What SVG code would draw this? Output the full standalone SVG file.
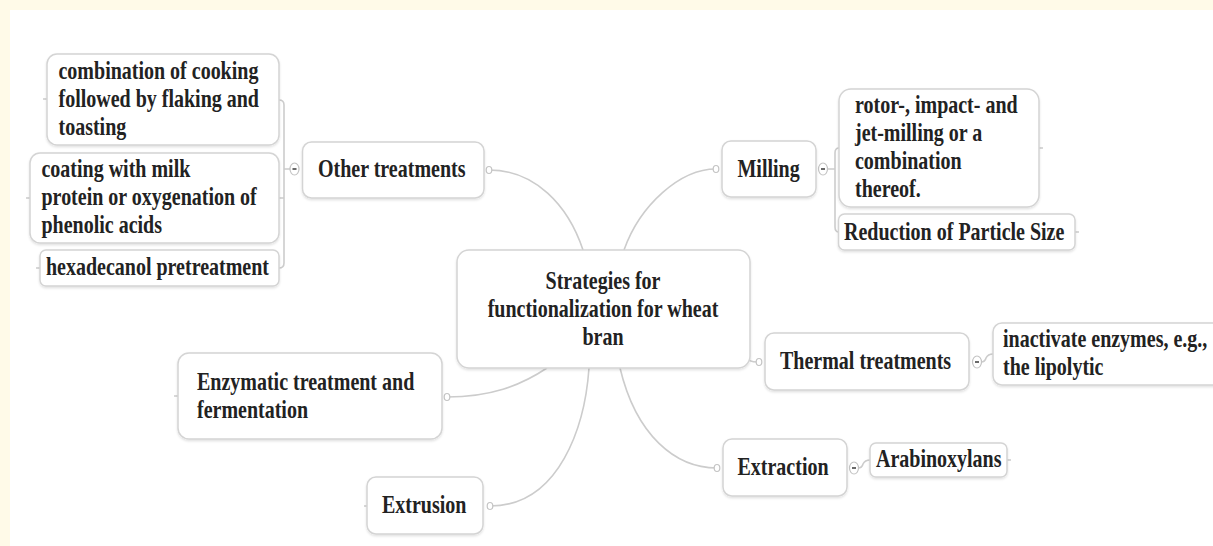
<svg xmlns="http://www.w3.org/2000/svg" width="1213" height="546" viewBox="0 0 1213 546">
<defs>
<style>
.box{fill:#ffffff;stroke:#d4d4d4;stroke-width:1.5}
.t{font-family:"Liberation Serif","Times New Roman",serif;font-weight:bold;font-size:25px;fill:#222222}
.m{text-anchor:middle}
.c{fill:none;stroke:#cccccc;stroke-width:1.6}
.dot{fill:#ffffff;stroke:#c4c4c4;stroke-width:1.2}
.col{fill:#ffffff;stroke:#c4c4c4;stroke-width:1.2}
.dash{stroke:#444444;stroke-width:1.6}
</style>
<filter id="sh" x="-5%" y="-10%" width="110%" height="130%">
<feDropShadow dx="0" dy="1.5" stdDeviation="1" flood-color="#000000" flood-opacity="0.12"/>
</filter>
</defs>
<rect x="0" y="0" width="1213" height="546" fill="#fffae8"/>
<rect x="10" y="10" width="1203" height="536" fill="#ffffff"/>

<g id="connectors">
<path class="c" d="M489,170 C535,170 568,205 583,250"/>
<path class="c" d="M624,250 C640,205 680,169 716,169"/>
<path class="c" d="M747,357 Q749,362 757,362"/>
<path class="c" d="M620,368 C636,435 675,468 717,468"/>
<path class="c" d="M547,368 C520,386 490,397 447,397"/>
<path class="c" d="M589,368 C585,425 560,506 490,506"/>
<path class="c" d="M290,169 L284,169 M279,100 Q284,100 284,105 L284,263 Q284,268 279,268 M279,198 L284,198"/>
<path class="c" d="M827,169 L835,169 M839,148 Q835,148 835,153 L835,227 Q835,232 839,232"/>
<path class="c" d="M981,362 Q985,362 986,358 Q988,354 993,354"/>
<path class="c" d="M858,468 Q862,468 863,464 Q865,460 870,460"/>
<path class="c" d="M43,99 L47,99 M26,198 L30,198 M36,268 L40,268 M1039,148 L1043,148 M1075,232 L1079,232 M1007,460 L1011,460 M174,396 L178,396 M364,506 L367,506"/>
<ellipse class="dot" cx="489" cy="170" rx="2.8" ry="3.5"/>
<ellipse class="dot" cx="716" cy="169" rx="2.8" ry="3.5"/>
<ellipse class="dot" cx="759" cy="362" rx="2.8" ry="3.5"/>
<ellipse class="dot" cx="717" cy="468" rx="2.8" ry="3.5"/>
<ellipse class="dot" cx="447" cy="397" rx="2.8" ry="3.5"/>
<ellipse class="dot" cx="490" cy="506" rx="2.8" ry="3.5"/>
<g id="collapse-other"><ellipse class="col" cx="294.5" cy="169" rx="4.5" ry="6"/><line class="dash" x1="292.5" y1="169" x2="296.5" y2="169"/></g>
<g id="collapse-milling"><ellipse class="col" cx="823" cy="169" rx="4.5" ry="6"/><line class="dash" x1="821" y1="169" x2="825" y2="169"/></g>
<g id="collapse-thermal"><ellipse class="col" cx="977" cy="362" rx="4.5" ry="6"/><line class="dash" x1="975" y1="362" x2="979" y2="362"/></g>
<g id="collapse-extraction"><ellipse class="col" cx="854" cy="468" rx="4.5" ry="6"/><line class="dash" x1="852" y1="468" x2="856" y2="468"/></g>
</g>

<g id="center">
<rect class="box" filter="url(#sh)" x="457" y="250" width="293" height="118" rx="12"/>
<text class="t m" transform="translate(603,289) scale(0.8,1)">Strategies for</text>
<text class="t m" transform="translate(603,317) scale(0.8,1)">functionalization for wheat</text>
<text class="t m" transform="translate(603,345) scale(0.8,1)">bran</text>
</g>

<g id="other">
<rect class="box" filter="url(#sh)" x="302.5" y="142" width="181.5" height="56" rx="9"/>
<text class="t" transform="translate(318,177) scale(0.8,1)">Other treatments</text>
</g>
<g id="combination">
<rect class="box" filter="url(#sh)" x="47" y="54" width="232" height="91" rx="10"/>
<text class="t" transform="translate(58.5,79) scale(0.8,1)">combination of cooking</text>
<text class="t" transform="translate(58.5,107) scale(0.8,1)">followed by flaking and</text>
<text class="t" transform="translate(58.5,135) scale(0.8,1)">toasting</text>
</g>
<g id="coating">
<rect class="box" filter="url(#sh)" x="30" y="153" width="249" height="90" rx="10"/>
<text class="t" transform="translate(41.5,177) scale(0.8,1)">coating with milk</text>
<text class="t" transform="translate(41.5,205) scale(0.8,1)">protein or oxygenation of</text>
<text class="t" transform="translate(41.5,233) scale(0.8,1)">phenolic acids</text>
</g>
<g id="hexadecanol">
<rect class="box" filter="url(#sh)" x="40" y="250" width="239" height="36" rx="6"/>
<text class="t" transform="translate(46,275) scale(0.8,1)">hexadecanol pretreatment</text>
</g>

<g id="milling">
<rect class="box" filter="url(#sh)" x="722" y="141" width="94" height="56" rx="9"/>
<text class="t" transform="translate(737.5,177) scale(0.8,1)">Milling</text>
</g>
<g id="rotor">
<rect class="box" filter="url(#sh)" x="839" y="89" width="200" height="118" rx="12"/>
<text class="t" transform="translate(855,113) scale(0.8,1)">rotor-, impact- and</text>
<text class="t" transform="translate(855,141) scale(0.8,1)">jet-milling or a</text>
<text class="t" transform="translate(855,169) scale(0.8,1)">combination</text>
<text class="t" transform="translate(855,197) scale(0.8,1)">thereof.</text>
</g>
<g id="reduction">
<rect class="box" filter="url(#sh)" x="838.5" y="214" width="236.5" height="36" rx="6"/>
<text class="t" transform="translate(844,240) scale(0.8,1)">Reduction of Particle Size</text>
</g>

<g id="thermal">
<rect class="box" filter="url(#sh)" x="765" y="333" width="204" height="57" rx="9"/>
<text class="t" transform="translate(780,369) scale(0.8,1)">Thermal treatments</text>
</g>
<g id="inactivate">
<rect class="box" filter="url(#sh)" x="993" y="323" width="240" height="62" rx="9"/>
<text class="t" transform="translate(1003,347) scale(0.8,1)">inactivate enzymes, e.g.,</text>
<text class="t" transform="translate(1003,375) scale(0.8,1)">the lipolytic</text>
</g>

<g id="extraction">
<rect class="box" filter="url(#sh)" x="723" y="439" width="124" height="57" rx="9"/>
<text class="t" transform="translate(737.5,475) scale(0.8,1)">Extraction</text>
</g>
<g id="arabinoxylans">
<rect class="box" filter="url(#sh)" x="870" y="443" width="137" height="34" rx="6"/>
<text class="t" transform="translate(876,467) scale(0.8,1)">Arabinoxylans</text>
</g>

<g id="enzymatic">
<rect class="box" filter="url(#sh)" x="178" y="353" width="264" height="86" rx="11"/>
<text class="t" transform="translate(197,390) scale(0.8,1)">Enzymatic treatment and</text>
<text class="t" transform="translate(197,418) scale(0.8,1)">fermentation</text>
</g>

<g id="extrusion">
<rect class="box" filter="url(#sh)" x="367" y="477" width="116" height="57" rx="9"/>
<text class="t" transform="translate(382,513) scale(0.8,1)">Extrusion</text>
</g>
</svg>
